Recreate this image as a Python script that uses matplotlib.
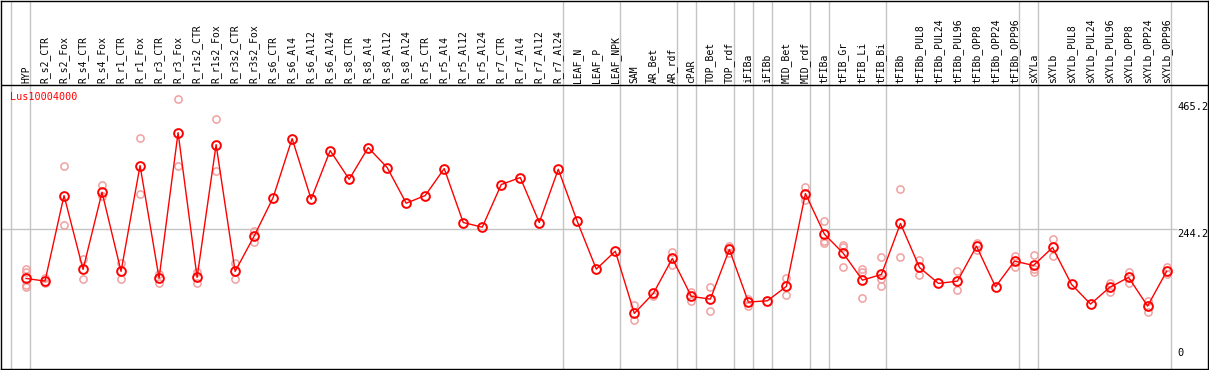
import matplotlib
matplotlib.use("Agg")
import matplotlib.pyplot as plt
import numpy as np

categories = ["HYP", "R_s2_CTR", "R_s2_Fox", "R_s4_CTR", "R_s4_Fox", "R_r1_CTR", "R_r1_Fox",
              "R_r3_CTR", "R_r3_Fox", "R_r1s2_CTR", "R_r1s2_Fox", "R_r3s2_CTR", "R_r3s2_Fox",
              "R_s6_CTR", "R_s6_Al4", "R_s6_Al12", "R_s6_Al24", "R_s8_CTR", "R_s8_Al4",
              "R_s8_Al12", "R_s8_Al24", "R_r5_CTR", "R_r5_Al4", "R_r5_Al12", "R_r5_Al24",
              "R_r7_CTR", "R_r7_Al4", "R_r7_Al12", "R_r7_Al24", "LEAF_N", "LEAF_P", "LEAF_NPK",
              "SAM", "AR_Bet", "AR_rdf", "cPAR", "TOP_Bet", "TOP_rdf", "iFIBa", "iFIBb",
              "MID_Bet", "MID_rdf", "tFIBa", "tFIB_Gr", "tFIB_Li", "tFIB_Bi", "tFIBb",
              "tFIBb_PUL8", "tFIBb_PUL24", "tFIBb_PUL96", "tFIBb_OPP8", "tFIBb_OPP24",
              "tFIBb_OPP96", "sXYLa", "sXYLb", "sXYLb_PUL8", "sXYLb_PUL24", "sXYLb_PUL96",
              "sXYLb_OPP8", "sXYLb_OPP24", "sXYLb_OPP96"]

means = [156.8, 152.1, 301.9, 172.6, 307.7, 169.1, 354.4, 157.3, 412.1, 158.6,
         391.1, 169.1, 230.8, 298.4, 401.6, 295.5, 380.6, 330.4, 385.8, 350.9,
         288.5, 301.9, 349.1, 254.7, 246.5, 321.2, 333.4, 254.7, 347.9, 256.5,
         173.1, 204.5, 95.6, 130.6, 191.8, 125.3, 120.6, 207.5, 115.4, 117.7,
         142.8, 305.4, 234.3, 200.5, 153.8, 163.8, 253.0, 176.0, 148.1, 152.1,
         213.3, 142.1, 187.1, 179.5, 211.0, 146.3, 111.9, 141.1, 158.6, 108.4,
         169.1]

replicates = [
    [173.1, 167.8, 145.1, 141.6], [157.9, 149.1], [354.4, 251.2], [190.0, 155.1],
    [319.9, 300.7], [184.1, 155.1], [403.3, 305.4], [163.8, 149.1], [471.5, 354.4],
    [168.4, 149.1], [436.5, 345.6], [184.1, 155.1], [240.0, 220.8],
    [], [], [], [], [], [], [], [], [], [], [], [], [], [], [], [], [], [], [],
    [110.1, 83.4], [125.9], [203.3, 180.1], [132.9, 116.6], [141.1, 99.1],
    [213.3, 200.5], [120.1, 108.4], [], [156.8, 128.1], [317.0, 294.9],
    [257.5, 222.0, 218.0], [214.5, 211.0, 177.1], [173.6, 167.8, 121.9],
    [193.5, 155.1, 143.4], [314.2, 193.5], [188.8, 162.1], [], [169.6, 135.8],
    [218.0, 206.3], [], [195.8, 177.1], [197.6, 173.6, 168.4], [226.7, 195.8],
    [], [], [148.1, 132.9], [168.4, 149.1], [117.7, 98.4], [176.0, 164.3]]

separators_after = [-1, 0, 28, 31, 34, 35, 37, 38, 39, 41, 42, 45, 52, 53, 60]
y_ticks = [465.2, 244.2, 0]
series_name = "Lus10004000"

W, H = 1209, 370
fig = plt.figure(figsize=(W / 100, H / 100), dpi=100)
ax = fig.add_axes([1 / W, 1 / H, 1207 / W, 368.5 / H])
x = np.arange(len(categories))
px_per_cat = 19.01
x0px = 26
ax.set_xlim((1 - x0px) / px_per_cat, (1208 - x0px) / px_per_cat)
scale = 0.572
ax.set_ylim(-(369 - 368) / scale, 368 / scale)
ax.set_xticks([])
ax.set_yticks([])
for s in ax.spines.values():
    s.set_color("black")
    s.set_linewidth(1.0)

gray = "#c4c4c4"
for s in separators_after:
    ax.axvline(s + 0.23, color=gray, lw=1.0, zorder=1)
header_v = (368 - 85) / scale
ax.axhline(header_v, color="black", lw=1.0, zorder=2)
ax.hlines(244.2, ax.get_xlim()[0], (1177 - x0px) / px_per_cat, color=gray, lw=1.0, zorder=1)

# replicates
rx, ry = [], []
for i, reps in enumerate(replicates):
    for r in reps:
        rx.append(i)
        ry.append(r)
ax.plot(rx, ry, linestyle="none", marker="o", markersize=5.2, markerfacecolor="none",
        markeredgecolor="#f0a0a0", markeredgewidth=1.1, zorder=3)

ax.plot(x, means, color="red", lw=1.0, marker="o", markersize=6.3, markerfacecolor="none",
        markeredgecolor="red", markeredgewidth=1.4, zorder=4)

mono = "DejaVu Sans Mono"
label_v = (368 - 83) / scale
for i, c in enumerate(categories):
    ax.text(i, label_v, c, rotation=90, ha="center", va="bottom", fontsize=7,
            family=mono, color="black", zorder=5)

ax.text((10 - x0px) / px_per_cat, (368 - 97) / scale, series_name, color="red",
        fontsize=7.3, family=mono, ha="left", va="center", zorder=5)

lab_x = (1177 - x0px) / px_per_cat
for t in y_ticks:
    if t == 0:
        ax.text(lab_x, (368 - 358) / scale, "0", fontsize=7.5, family=mono,
                ha="left", va="bottom", zorder=5)
    else:
        ax.text(lab_x, t, f"{t:g}", fontsize=7.5, family=mono, ha="left",
                va="top", zorder=5)

fig.savefig("out.png", dpi=100)
